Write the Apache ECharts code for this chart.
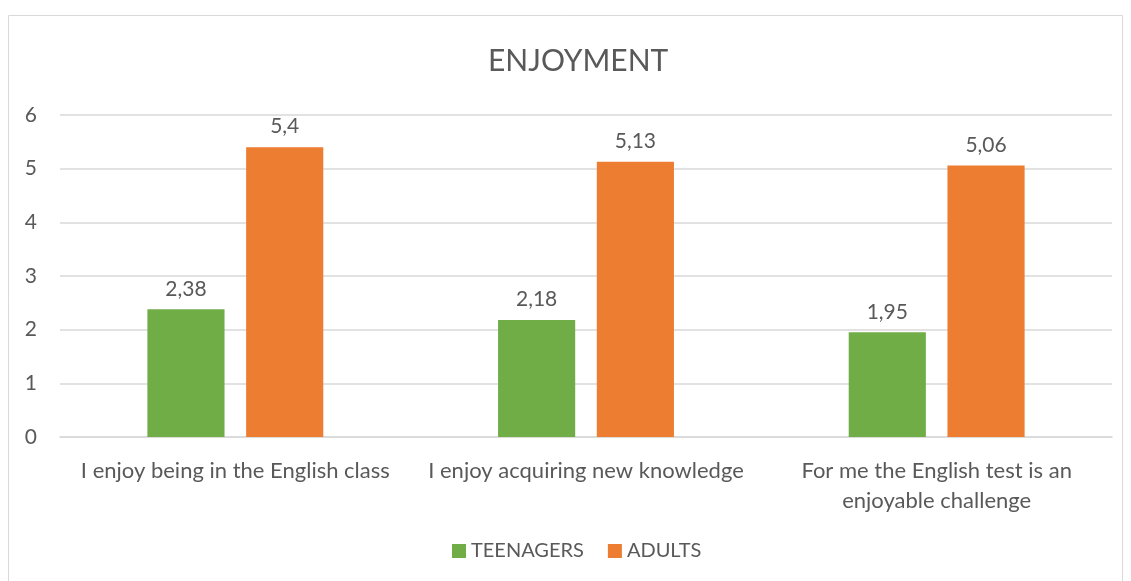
<!DOCTYPE html>
<html>
<head>
<meta charset="utf-8">
<script src="https://cdn.jsdelivr.net/npm/echarts@6/dist/echarts.min.js"></script>
<style>
  html, body { margin: 0; padding: 0; background: #fff; }
  #chart { width: 1131px; height: 581px; }
</style>
</head>
<body>
<div id="chart"></div>
<script>
const categories = [
  'I enjoy being in the English class',
  'I enjoy acquiring new knowledge',
  'For me the English test is an\nenjoyable challenge'
]
const teenagers = [2.38, 2.18, 1.95]
const adults = [5.4, 5.13, 5.06]
const yTicks = { min: 0, max: 6, interval: 1 }

const textColor = '#595959'
const font = 'Lato, "Open Sans", sans-serif'
const fmt = p => String(p.value).replace('.', ',')

const chart = echarts.init(document.getElementById('chart'))
chart.setOption({
  textStyle: { fontFamily: font },
  title: {
    text: 'ENJOYMENT',
    left: 483,
    top: 41,
    textStyle: { fontSize: 30, fontWeight: 'normal', color: textColor, fontFamily: font }
  },
  graphic: [{
    type: 'rect',
    shape: { x: 8.5, y: 15.5, width: 1114, height: 570 },
    style: { fill: 'none', stroke: '#d9d9d9', lineWidth: 1 },
    silent: true
  }],
  legend: {
    bottom: 15,
    left: 447,
    itemWidth: 14,
    itemHeight: 14,
    itemGap: 24,
    icon: 'rect',
    textStyle: { fontSize: 20, color: textColor, fontFamily: font }
  },
  grid: { left: 60, right: 19, top: 115, bottom: 144 },
  xAxis: {
    type: 'category',
    data: categories,
    axisLine: { lineStyle: { color: '#d9d9d9', width: 1.5 } },
    axisTick: { show: false },
    axisLabel: { fontSize: 22, color: textColor, margin: 19, lineHeight: 30, fontFamily: font, interval: 0 }
  },
  yAxis: {
    type: 'value',
    min: yTicks.min,
    max: yTicks.max,
    interval: yTicks.interval,
    axisLine: { show: false },
    axisTick: { show: false },
    splitLine: { lineStyle: { color: '#d9d9d9', width: 1.5 } },
    axisLabel: { fontSize: 21, color: textColor, margin: 23, fontFamily: font }
  },
  series: [
    {
      name: 'TEENAGERS',
      type: 'bar',
      data: teenagers,
      barWidth: '22%',
      barGap: '28%',
      itemStyle: { color: '#70AD47' },
      label: { show: true, position: 'top', distance: 10, fontSize: 21, color: textColor, fontFamily: font, formatter: fmt }
    },
    {
      name: 'ADULTS',
      type: 'bar',
      data: adults,
      barWidth: '22%',
      itemStyle: { color: '#ED7D31' },
      label: { show: true, position: 'top', distance: 10, fontSize: 21, color: textColor, fontFamily: font, formatter: fmt }
    }
  ]
})
</script>
</body>
</html>
